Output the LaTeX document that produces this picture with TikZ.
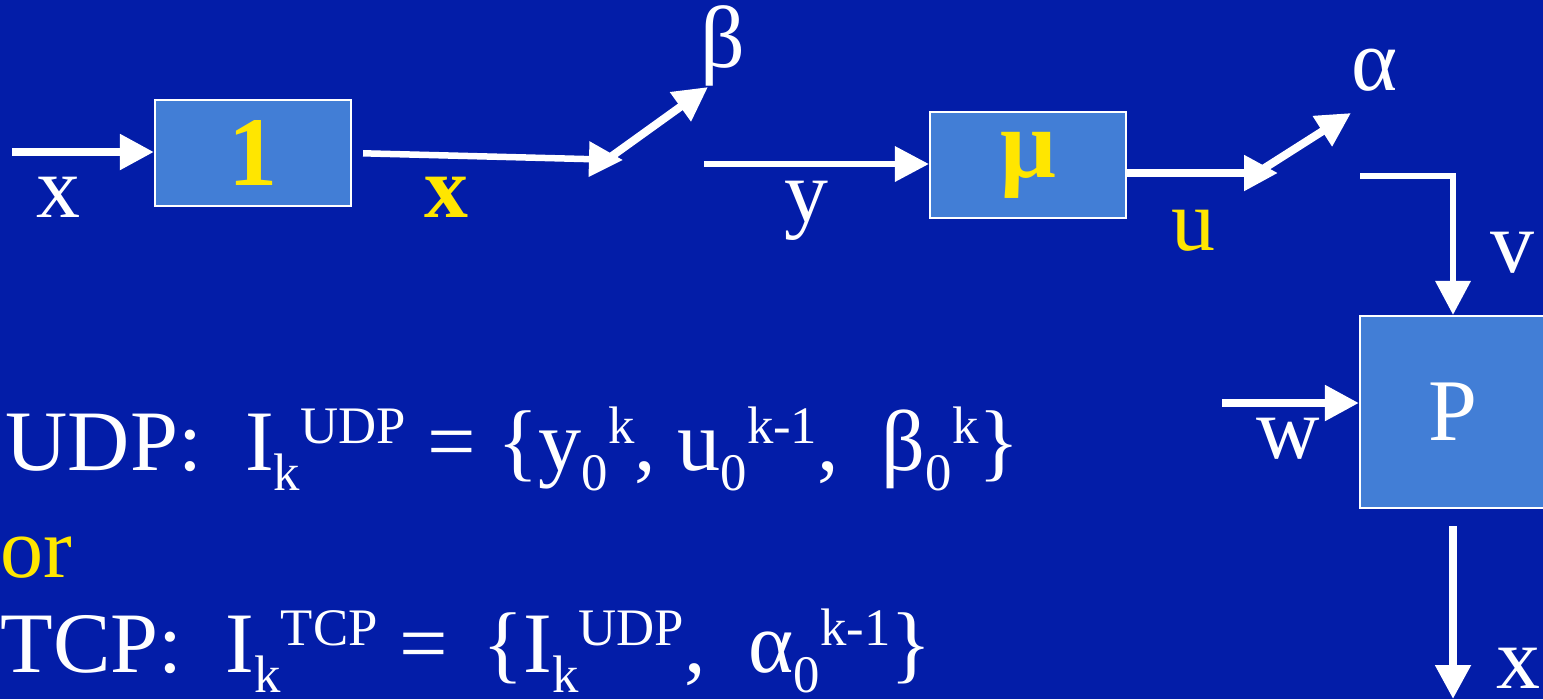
\documentclass[tikz,border=0pt]{standalone}
\usepackage{fontspec}
\setmainfont{Liberation Serif}
\usepackage{tikz}
\usetikzlibrary{arrows.meta,positioning}
\definecolor{slideblue}{RGB}{3,29,168}
\definecolor{boxblue}{RGB}{66,126,214}
\definecolor{sigyellow}{RGB}{255,230,0}
\newcommand{\subidx}[1]{\raisebox{-0.24em}{\fontsize{15}{15}\selectfont #1}}
\newcommand{\supidx}[1]{\raisebox{0.31em}{\fontsize{15}{15}\selectfont #1}}

\begin{document}
\begin{tikzpicture}[
  x=0.01cm, y=-0.01cm,
  font=\fontsize{25}{30}\selectfont,
  box/.style={draw=white, line width=0.02cm, fill=boxblue, minimum width=1.96cm, minimum height=1.06cm, inner sep=0pt},
  arrow/.style={-{Triangle[length=0.34cm, width=0.34cm]}, white, line width=0.08cm},
  thinarrow/.style={arrow, line width=0.065cm},
  lbl/.style={anchor=base, text=white, inner sep=0pt},
  sig/.style={lbl, text=sigyellow},
  eqn/.style={lbl, anchor=base west, font=\fontsize{24.5}{28}\selectfont}
]
  \fill[slideblue] (0,0) rectangle (1543,699);
  \useasboundingbox (0,0) rectangle (1543,699);

  % blocks
  \node[box, text=sigyellow, font=\fontsize{28}{30}\selectfont\bfseries] (one) at (253,153) {1};
  \node[box, text=sigyellow, font=\fontsize{28}{30}\selectfont\bfseries] (mu) at (1028,165) {μ};
  \node[box, text=white, minimum width=1.86cm, minimum height=1.92cm] (p) at (1453,412) {P};

  % free ends and switch pivots
  \coordinate (xin) at (12,152);
  \coordinate (betasw) at (623,160);
  \coordinate (betapivot) at (612,156);
  \coordinate (betatip) at (708,87);
  \coordinate (yin) at (704,164);
  \coordinate (alphasw) at (1278,173);
  \coordinate (alphapivot) at (1263,169);
  \coordinate (alphatip) at (1351,113);
  \coordinate (vout) at (1360,176);
  \coordinate (win) at (1222,403);
  \coordinate (xout) at (1456,699);

  \draw[arrow] (xin) -- (xin -| one.west);
  \draw[thinarrow, shorten <=0.11cm] (one.east) -- (betasw);
  \draw[arrow] (betapivot) -- (betatip);
  \draw[thinarrow] (yin) -- (yin -| mu.west);
  \draw[arrow] (mu.east |- alphasw) -- (alphasw);
  \draw[arrow] (alphapivot) -- (alphatip);
  \draw[thinarrow] (vout) -| (p.north);
  \draw[arrow] (win) -- (win -| p.west);
  \draw[arrow, shorten <=0.17cm] (p.south) -- (p.south |- xout);

  % signal labels
  \node[lbl] (xlbl) at (58,217) {x};
  \node[sig] (xhatlbl) at (446,217) {\textbf{x}};
  \node[lbl] (betalbl) at (723,67) {β};
  \node[lbl] (ylbl) at (806,221) {y};
  \node[sig] (ulbl) at (1193,250) {u};
  \node[lbl] (alphalbl) at (1375,90) {α};
  \node[lbl] (vlbl) at (1512,272) {v};
  \node[lbl] (wlbl) at (1288,458) {w};
  \node[lbl] (xoutlbl) at (1518,688) {x};

  % information sets
  \node[eqn] (udp) at (5,470) {UDP:\hspace{0.5em}I\subidx{k}\supidx{UDP} = \{y\subidx{0}\supidx{k}, u\subidx{0}\supidx{k-1},\ \ β\subidx{0}\supidx{k}\}};
  \node[eqn, text=sigyellow] (orlbl) at (0,577) {or};
  \node[eqn] (tcp) at (0,672) {TCP:\hspace{0.5em}I\subidx{k}\supidx{TCP} = \hspace{0.15em}\{I\subidx{k}\supidx{UDP},\ \ α\subidx{0}\supidx{k-1}\}};
\end{tikzpicture}
\end{document}
